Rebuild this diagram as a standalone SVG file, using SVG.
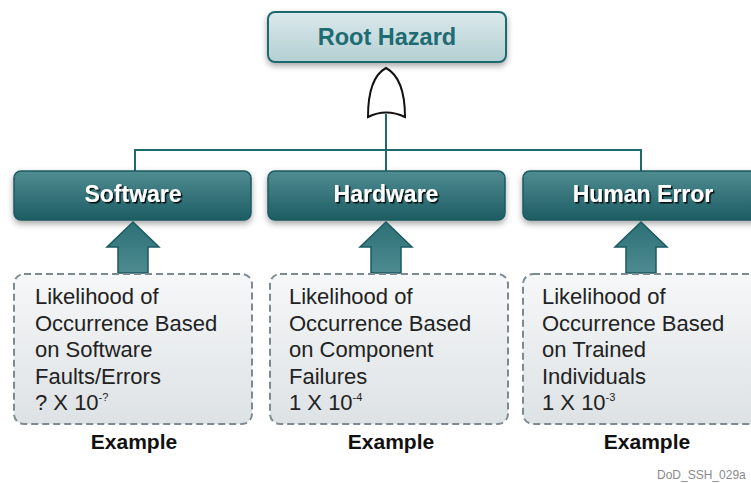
<svg xmlns="http://www.w3.org/2000/svg" width="751" height="483" viewBox="0 0 751 483">
<defs>
<linearGradient id="gRoot" x1="0" y1="0" x2="0" y2="1"><stop offset="0" stop-color="#dbe9eb"/><stop offset="1" stop-color="#b3d0d3"/></linearGradient>
<linearGradient id="gBox" x1="0" y1="0" x2="0" y2="1"><stop offset="0" stop-color="#4f8c91"/><stop offset="1" stop-color="#1c5d63"/></linearGradient>
<linearGradient id="gArrow" x1="0" y1="0" x2="0" y2="1"><stop offset="0" stop-color="#2c7076"/><stop offset="1" stop-color="#4d8b90"/></linearGradient>
<linearGradient id="gDash" x1="0" y1="0" x2="0" y2="1"><stop offset="0" stop-color="#f6f7f8"/><stop offset="1" stop-color="#dde2e4"/></linearGradient>
<filter id="sh" x="-10%" y="-20%" width="120%" height="150%"><feDropShadow dx="0" dy="3" stdDeviation="3" flood-color="#000" flood-opacity="0.35"/></filter>
<filter id="ts" x="-10%" y="-30%" width="120%" height="160%"><feDropShadow dx="1.5" dy="1.5" stdDeviation="0.3" flood-color="#000" flood-opacity="0.9"/></filter>
</defs>
<style>
.lbl{font-family:"Liberation Sans",Arial,sans-serif;font-weight:bold;font-size:23px;fill:#fff;text-anchor:middle}
.body{font-family:"Liberation Sans",Arial,sans-serif;font-size:22px;fill:#222}
.ex{font-family:"Liberation Sans",Arial,sans-serif;font-weight:bold;font-size:21px;fill:#111;text-anchor:middle}
.teal{fill:url(#gBox);stroke:#1a5a60;stroke-width:1.5}
.dash{fill:url(#gDash);stroke:#7d8a91;stroke-width:2;stroke-dasharray:7 4}
.arrow{fill:url(#gArrow);stroke:#1a5a60;stroke-width:1.5}
.conn{fill:none;stroke:#1e6a70;stroke-width:2}
</style>
<rect width="751" height="483" fill="#fff"/>
<g id="connectors">
<line class="conn" x1="386" y1="114" x2="386" y2="150"/>
<polyline class="conn" points="135,171 135,150 641,150 641,171"/>
<line class="conn" x1="386" y1="150" x2="386" y2="171"/>
</g>
<g id="root">
<rect x="268" y="12" width="238" height="50" rx="7" fill="url(#gRoot)" stroke="#1d6a70" stroke-width="2" filter="url(#sh)"/>
<text x="387" y="45" font-family="'Liberation Sans',Arial,sans-serif" font-weight="bold" font-size="23.5" fill="#1e6b72" text-anchor="middle">Root Hazard</text>
</g>
<g id="orgate">
<path d="M386,68 C399,75 405,92 405,117 Q386,108 368,117 C368,92 373,75 386,68 Z" fill="#fff" stroke="#111" stroke-width="2"/>
</g>
<g id="software">
<rect class="teal" x="14" y="171" width="237" height="49" rx="7" filter="url(#sh)"/>
<text class="lbl" x="133" y="202" filter="url(#ts)">Software</text>
</g>
<g id="hardware">
<rect class="teal" x="268" y="171" width="237" height="49" rx="7" filter="url(#sh)"/>
<text class="lbl" x="386" y="202" filter="url(#ts)">Hardware</text>
</g>
<g id="human">
<rect class="teal" x="523" y="171" width="240" height="49" rx="7" filter="url(#sh)"/>
<text class="lbl" x="643" y="202" filter="url(#ts)">Human Error</text>
</g>
<g id="arrows">
<path class="arrow" d="M133,222 L159,247 L148,247 L148,273 L118,273 L118,247 L107,247 Z"/>
<path class="arrow" d="M386,222 L412,247 L401,247 L401,273 L371,273 L371,247 L360,247 Z"/>
<path class="arrow" d="M641,222 L667,247 L656,247 L656,273 L626,273 L626,247 L615,247 Z"/>
</g>
<g id="ex-software">
<rect class="dash" x="14" y="274" width="238" height="150" rx="10"/>
<text class="body" x="35" y="304">Likelihood of</text>
<text class="body" x="35" y="331">Occurrence Based</text>
<text class="body" x="35" y="357">on Software</text>
<text class="body" x="35" y="384">Faults/Errors</text>
<text class="body" x="35" y="410">? X 10<tspan font-size="11" dy="-9">-?</tspan></text>
<text class="ex" x="134" y="449">Example</text>
</g>
<g id="ex-hardware">
<rect class="dash" x="270" y="274" width="238" height="150" rx="10"/>
<text class="body" x="289" y="304">Likelihood of</text>
<text class="body" x="289" y="331">Occurrence Based</text>
<text class="body" x="289" y="357">on Component</text>
<text class="body" x="289" y="384">Failures</text>
<text class="body" x="289" y="410">1 X 10<tspan font-size="11" dy="-9">-4</tspan></text>
<text class="ex" x="391" y="449">Example</text>
</g>
<g id="ex-human">
<rect class="dash" x="523" y="274" width="240" height="150" rx="10"/>
<text class="body" x="542" y="304">Likelihood of</text>
<text class="body" x="542" y="331">Occurrence Based</text>
<text class="body" x="542" y="357">on Trained</text>
<text class="body" x="542" y="384">Individuals</text>
<text class="body" x="542" y="410">1 X 10<tspan font-size="11" dy="-9">-3</tspan></text>
<text class="ex" x="647" y="449">Example</text>
</g>
<text x="657" y="479" font-family="'Liberation Sans',Arial,sans-serif" font-size="12" fill="#8a8a8a">DoD_SSH_029a</text>
</svg>
